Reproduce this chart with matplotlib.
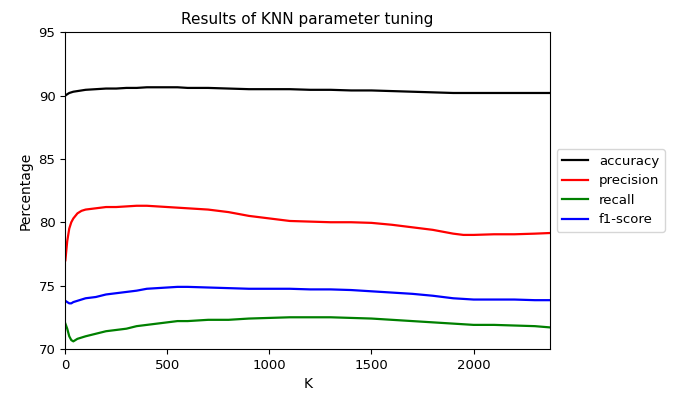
import matplotlib.pyplot as plt

# values
k = [1, 10, 20, 30, 40, 60, 80, 100, 150, 200, 250, 300, 350, 400, 450, 500, 550,
     600, 700, 800, 900, 1000, 1100, 1200, 1300, 1400, 1500, 1600, 1700, 1800,
     1900, 1950, 2000, 2100, 2200, 2300, 2375]

accuracy = [90.0, 90.1, 90.2, 90.25, 90.3, 90.35, 90.4, 90.45, 90.5, 90.55, 90.55,
            90.6, 90.6, 90.65, 90.65, 90.65, 90.65, 90.6, 90.6, 90.55, 90.5, 90.5,
            90.5, 90.45, 90.45, 90.4, 90.4, 90.35, 90.3, 90.25, 90.2, 90.2, 90.2,
            90.2, 90.2, 90.2, 90.2]

precision = [77.0, 78.5, 79.5, 80.0, 80.3, 80.7, 80.9, 81.0, 81.1, 81.2, 81.2,
             81.25, 81.3, 81.3, 81.25, 81.2, 81.15, 81.1, 81.0, 80.8, 80.5, 80.3,
             80.1, 80.05, 80.0, 80.0, 79.95, 79.8, 79.6, 79.4, 79.1, 79.0, 79.0,
             79.05, 79.05, 79.1, 79.15]

recall = [72.0, 71.6, 71.0, 70.7, 70.6, 70.8, 70.9, 71.0, 71.2, 71.4, 71.5,
          71.6, 71.8, 71.9, 72.0, 72.1, 72.2, 72.2, 72.3, 72.3, 72.4, 72.45,
          72.5, 72.5, 72.5, 72.45, 72.4, 72.3, 72.2, 72.1, 72.0, 71.95, 71.9,
          71.9, 71.85, 71.8, 71.7]

f1_score = [73.8, 73.7, 73.6, 73.6, 73.7, 73.8, 73.9, 74.0, 74.1, 74.3, 74.4,
            74.5, 74.6, 74.75, 74.8, 74.85, 74.9, 74.9, 74.85, 74.8, 74.75, 74.75,
            74.75, 74.7, 74.7, 74.65, 74.55, 74.45, 74.35, 74.2, 74.0, 73.95, 73.9,
            73.9, 73.9, 73.85, 73.85]

fig = plt.figure(figsize=(6.86, 3.97), dpi=100)
ax = fig.add_axes([0.095, 0.121, 0.707, 0.798])

ax.plot(k, accuracy, color='black', lw=1.6, label='accuracy')
ax.plot(k, precision, color='red', lw=1.6, label='precision')
ax.plot(k, recall, color='green', lw=1.6, label='recall')
ax.plot(k, f1_score, color='blue', lw=1.6, label='f1-score')

ax.set_xlim(0, 2375)
ax.set_ylim(70, 95)
ax.set_xticks([0, 500, 1000, 1500, 2000])
ax.set_yticks([70, 75, 80, 85, 90, 95])
ax.tick_params(labelsize=9.5)
ax.set_xlabel('K', fontsize=10)
ax.set_ylabel('Percentage', fontsize=10)
ax.set_title('Results of KNN parameter tuning', fontsize=11)
ax.legend(loc='center left', bbox_to_anchor=(1.0, 0.5), fontsize=9.5)

plt.savefig('out.png')
